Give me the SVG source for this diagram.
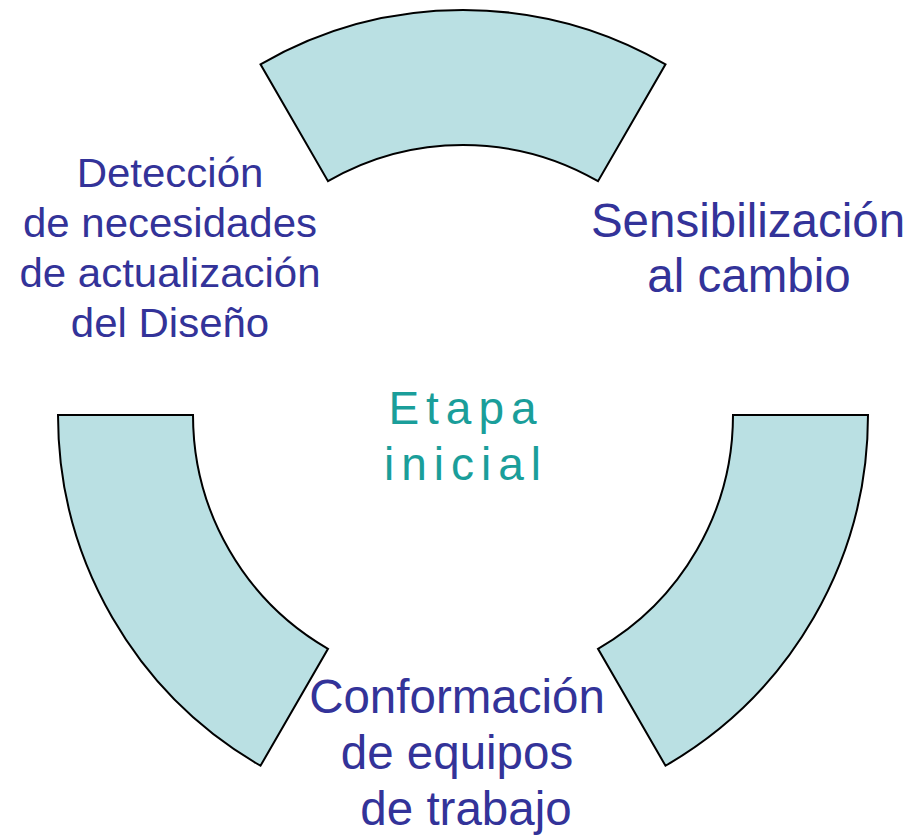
<svg xmlns="http://www.w3.org/2000/svg" width="911" height="836" viewBox="0 0 911 836">
<style>
.seg{fill:#BAE0E3;stroke:#000;stroke-width:2;stroke-linejoin:miter}
.lbl{font-family:"Liberation Sans",Arial,sans-serif;fill:#333399;text-anchor:middle}
.ctr{font-family:"Liberation Sans",Arial,sans-serif;fill:#1A9E9A;text-anchor:middle;letter-spacing:7px}
</style>
<rect width="911" height="836" fill="#fff"/>
<g id="seg-top"><path class="seg" d="M260.5 64.26 A405 405 0 0 1 665.5 64.26 L598 181.17 A270 270 0 0 0 328 181.17 Z"/></g>
<g id="seg-left"><path class="seg" d="M58 415 L193 415 A270 270 0 0 0 328 648.83 L260.5 765.74 A405 405 0 0 1 58 415 Z"/></g>
<g id="seg-right"><path class="seg" d="M733 415 L868 415 A405 405 0 0 1 665.5 765.74 L598 648.83 A270 270 0 0 0 733 415 Z"/></g>
<g id="connectors"></g>
<g id="label-deteccion" transform="translate(170 0) scale(1.05 1)">
<text class="lbl" font-size="40" x="0" y="187">Detección</text>
<text class="lbl" font-size="40" x="0" y="237">de necesidades</text>
<text class="lbl" font-size="40" x="0" y="287">de actualización</text>
<text class="lbl" font-size="40" x="0" y="337">del Diseño</text>
</g>
<g id="label-sensibilizacion">
<text class="lbl" font-size="47.5" x="748" y="237">Sensibilización</text>
<text class="lbl" font-size="47.5" x="749" y="292">al cambio</text>
</g>
<g id="label-conformacion">
<text class="lbl" font-size="47.5" x="457" y="713">Conformación</text>
<text class="lbl" font-size="47.5" x="457" y="769">de equipos</text>
<text class="lbl" font-size="47.5" x="466" y="825">de trabajo</text>
</g>
<g id="center-label">
<text class="ctr" font-size="46" x="466" y="424">Etapa</text>
<text class="ctr" font-size="46" x="466" y="480">inicial</text>
</g>
</svg>
